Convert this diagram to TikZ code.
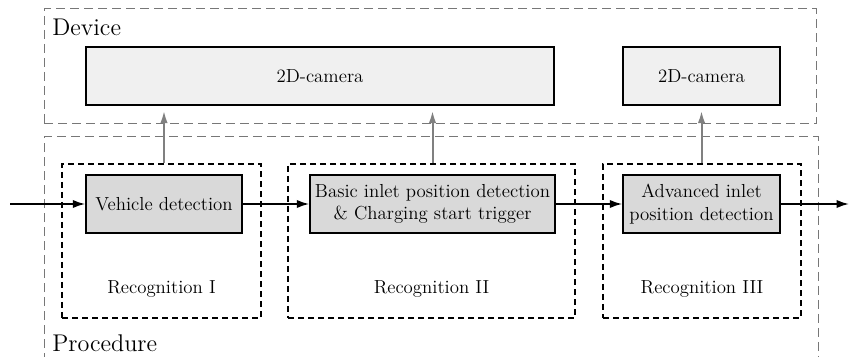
\documentclass[tikz,border=0pt]{standalone}
\usetikzlibrary{arrows.meta}
\definecolor{camfill}{HTML}{F0F0F0}
\definecolor{procfill}{HTML}{D9D9D9}
\definecolor{framegray}{HTML}{777777}
\definecolor{arrowgray}{HTML}{808080}
\begin{document}
\begin{tikzpicture}[x=0.6pt,y=-0.6pt,
  txt/.style={font=\fontsize{11.3}{13.4}\selectfont},
  camera/.style={draw=black,line width=0.9pt,fill=camfill,minimum height=34.8pt,inner sep=0pt,txt},
  procbox/.style={draw=black,line width=0.9pt,fill=procfill,minimum height=34.8pt,inner sep=0pt,align=center,txt},
  recbox/.style={draw=black,line width=1.1pt,dash pattern=on 3.6pt off 2.4pt,minimum height=92.4pt,inner sep=0pt},
  groupframe/.style={draw=framegray,line width=0.6pt,dash pattern=on 5.4pt off 3pt},
  biglabel/.style={anchor=west,inner sep=0pt,font=\fontsize{14.5}{17}\selectfont},
  flow/.style={line width=1.1pt,-{Latex[length=7.5pt,width=5pt]}},
  feed/.style={draw=arrowgray,line width=1.2pt,-{Latex[length=7.5pt,width=4.5pt]},shorten >=3pt}
]
\useasboundingbox (0,0) rectangle (849,357);

% Device frame
\node[groupframe,minimum width=463.2pt,minimum height=69pt,inner sep=0pt] (device) at (430,66.5) {};
\node[biglabel] (devlabel) at (52,27) {Device};

% Procedure frame (open at the bottom, beyond the picture)
\coordinate (pbl) at (44,362);
\coordinate (ptl) at (44,137);
\coordinate (ptr) at (818,137);
\coordinate (pbr) at (818,362);
\draw[groupframe] (pbl) -- (ptl) -- (ptr) -- (pbr);
\node[biglabel] (proclabel) at (52,343) {Procedure};

% Cameras
\node[camera,minimum width=280.8pt] (cam1) at (320,76) {2D-camera};
\node[camera,minimum width=94.2pt] (cam2) at (701.5,76) {2D-camera};

% Recognition groups
\node[recbox,minimum width=119.4pt] (rec1) at (161.5,241) {};
\node[recbox,minimum width=172.2pt] (rec2) at (431.5,241) {};
\node[recbox,minimum width=118.8pt] (rec3) at (702,241) {};
\node[txt] (rec1lab) at (161.5,289) {Recognition I};
\node[txt] (rec2lab) at (431.5,289) {Recognition II};
\node[txt] (rec3lab) at (702,289) {Recognition III};

% Process boxes
\node[procbox,minimum width=93.6pt] (veh) at (164,204) {Vehicle detection};
\node[procbox,minimum width=147pt] (basic) at (432.5,204) {Basic inlet position detection\\ \& Charging start trigger};
\node[procbox,minimum width=94.2pt] (adv) at (701.5,204) {Advanced inlet\\ position detection};

% Flow
\coordinate (in) at (10,204);
\coordinate (out) at (849,204);
\draw[flow] (in) -- (veh.west);
\draw[flow] (veh.east) -- (basic.west);
\draw[flow] (basic.east) -- (adv.west);
\draw[flow] (adv.east) -- (out);

% Feeds to cameras
\draw[feed] (veh.north |- rec1.north) -- (veh.north |- cam1.south);
\draw[feed] (basic.north |- rec2.north) -- (basic.north |- cam1.south);
\draw[feed] (adv.north |- rec3.north) -- (adv.north |- cam2.south);
\end{tikzpicture}
\end{document}
